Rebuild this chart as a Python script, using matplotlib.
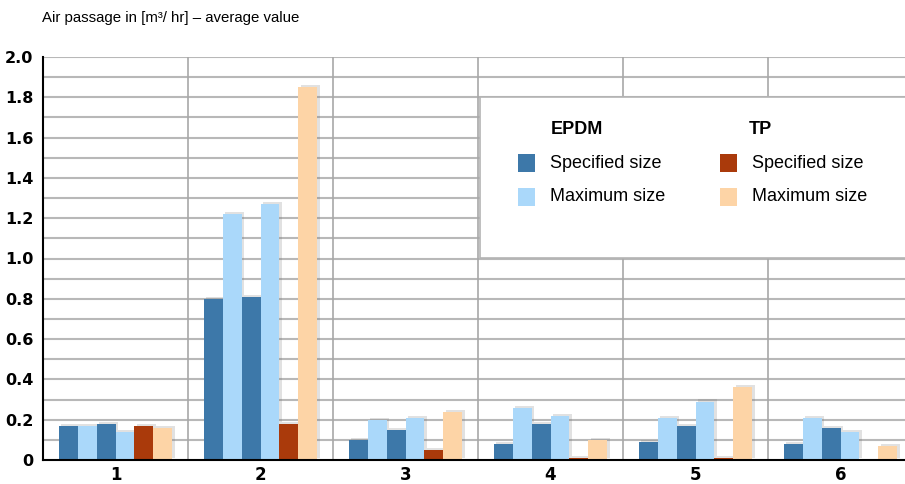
import matplotlib
matplotlib.use("Agg")
import matplotlib.pyplot as plt
import matplotlib.patheffects as pe
from matplotlib.patches import Rectangle
import numpy as np

groups = ["1", "2", "3", "4", "5", "6"]
epdm_spec_a = [0.17, 0.80, 0.10, 0.08, 0.09, 0.08]
epdm_max_a = [0.17, 1.22, 0.20, 0.26, 0.21, 0.21]
epdm_spec_b = [0.18, 0.81, 0.15, 0.18, 0.17, 0.16]
epdm_max_b = [0.14, 1.27, 0.21, 0.22, 0.29, 0.14]
tp_spec = [0.17, 0.18, 0.05, 0.01, 0.01, 0.0]
tp_max = [0.16, 1.85, 0.24, 0.10, 0.36, 0.07]
yticks = [0, 0.2, 0.4, 0.6, 0.8, 1.0, 1.2, 1.4, 1.6, 1.8, 2.0]
ytick_labels = ["0", "0.2", "0.4", "0.6", "0.8", "1.0", "1.2", "1.4", "1.6", "1.8", "2.0"]

c_dark = "#3d78a9"
c_light = "#aad8fa"
c_red = "#aa3a0b"
c_peach = "#fdd4a6"

fig = plt.figure(figsize=(9.05, 4.84), dpi=100)
ax = fig.add_axes([43/905, 24/484, 870/905, 403/484])

x = np.arange(len(groups))
w = 0.131
series = [(epdm_spec_a, c_dark), (epdm_max_a, c_light), (epdm_spec_b, c_dark),
          (epdm_max_b, c_light), (tp_spec, c_red), (tp_max, c_peach)]
shadow = [pe.SimplePatchShadow(offset=(1.5, 1.5), shadow_rgbFace="#777777", alpha=0.22), pe.Normal()]
for i, (vals, col) in enumerate(series):
    bars = ax.bar(x + (i - 2.5) * w, vals, width=w, color=col, zorder=3, linewidth=0)
    for b in bars:
        if b.get_height() > 0:
            b.set_path_effects(shadow)

ax.set_xlim(-0.5, 5.5)
ax.set_ylim(0, 2.0)
for yv in np.arange(0.1, 2.01, 0.1):
    ax.axhline(yv, color="#b8b8b8", lw=1.5, zorder=1)
for xv in np.arange(0.5, 5.5, 1.0):
    ax.axvline(xv, color="#a8a8a8", lw=1.2, zorder=1)

for s in ["top", "right"]:
    ax.spines[s].set_visible(False)
for s in ["left", "bottom"]:
    ax.spines[s].set_color("black")
    ax.spines[s].set_linewidth(1.5)
    ax.spines[s].set_zorder(4)

ax.set_yticks(yticks)
ax.set_yticklabels(ytick_labels, fontsize=11.5, fontweight="heavy", family="DejaVu Sans")
ax.set_xticks(x)
ax.set_xticklabels(groups, fontsize=12, fontweight="heavy", family="DejaVu Sans")
ax.tick_params(axis="y", length=0, pad=7)
ax.tick_params(axis="x", length=0, pad=4)

fig.text(42/905, 1 - 18/484, "Air passage in [m\u00b3/ hr] \u2013 average value",
         fontsize=10.8, family="Liberation Sans", va="center", ha="left")

# legend box
lg = Rectangle((480/905, 1 - 258/484), 0.5, 161/484, transform=fig.transFigure,
               facecolor="white", edgecolor="#b4b4b4", lw=1.2, zorder=10)
fig.add_artist(lg)
fs = 13
fig.text(551/905, 1 - 129/484, "EPDM", fontsize=fs, fontweight="bold", family="Liberation Sans",
         va="center", ha="left", zorder=11)
fig.text(749/905, 1 - 129/484, "TP", fontsize=fs, fontweight="bold", family="Liberation Sans",
         va="center", ha="left", zorder=11)
entries = [(518, 163, c_dark, "Specified size"), (518, 197, c_light, "Maximum size"),
           (720, 163, c_red, "Specified size"), (720, 197, c_peach, "Maximum size")]
for ex, ey, col, lab in entries:
    fig.add_artist(Rectangle((ex/905, 1 - (ey + 8.5)/484), 17/905, 17/484,
                             transform=fig.transFigure, facecolor=col, edgecolor="none", zorder=11))
    fig.text((ex + 32)/905, 1 - ey/484, lab, fontsize=fs, family="Liberation Sans",
             va="center", ha="left", zorder=11)

fig.savefig("out.png", dpi=100)
